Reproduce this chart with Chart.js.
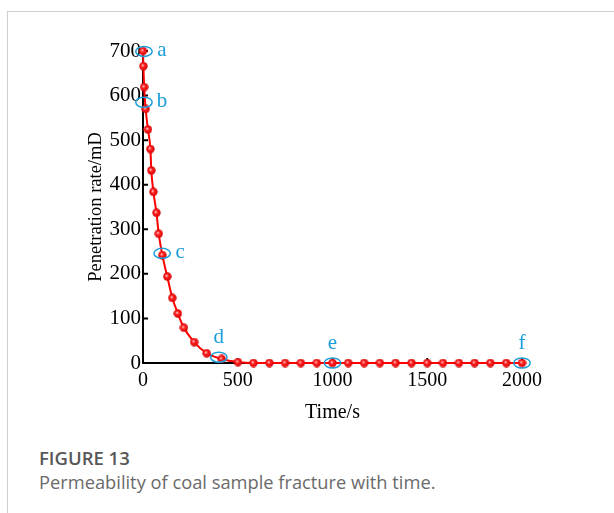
<!DOCTYPE html>
<html>
<head>
<meta charset="utf-8">
<script src="https://cdn.jsdelivr.net/npm/chart.js@4.4.1/dist/chart.umd.min.js"></script>
<style>
  html, body { margin: 0; padding: 0; background: #fff; }
  body { width: 614px; height: 513px; position: relative; overflow: hidden; }
  #frame { position: absolute; left: 7px; top: 11px; width: 620px; height: 520px;
           border-top: 1px solid #cfcfcf; border-left: 1px solid #cfcfcf; }
  #chart { position: absolute; left: 0; top: 0; }
  #figno { position: absolute; left: 39px; top: 445px; font-family: "Open Sans", sans-serif;
           font-size: 18.5px; font-weight: 600; color: #585858; }
  #cap { position: absolute; left: 39px; top: 469px; font-family: "Open Sans", sans-serif;
         font-size: 18.3px; color: #6a6a6a; }
</style>
</head>
<body>
<div id="frame"></div>
<canvas id="chart" width="614" height="440"></canvas>
<div id="figno">FIGURE 13</div>
<div id="cap">Permeability of coal sample fracture with time.</div>
<script>
// ---- data ----
const timeS = [0, 2, 6, 14, 26, 39, 44, 55, 71, 83, 102, 128, 155, 184, 216, 270, 336, 415, 501,
               583, 667, 750, 833, 917, 1000, 1083, 1167, 1250, 1333, 1417, 1500, 1583, 1667, 1750, 1833, 1917, 2000];
const rateMD = [700, 666, 619, 570, 524, 480, 432, 384, 337, 290, 242, 194, 146, 111, 79, 47, 22, 9, 2,
                0, 0, 0, 0, 0, 0, 0, 0, 0, 0, 0, 0, 0, 0, 0, 0, 0, 0];
const xTicks = [0, 500, 1000, 1500, 2000];
const yTicks = [0, 100, 200, 300, 400, 500, 600, 700];
const annLabels = ['a', 'b', 'c', 'd', 'e', 'f'];
const annTimes = [5, 5, 101, 400, 1000, 2000];
const annValues = [699, 585, 246, 13, 0, 0];

// ---- styles ----
const annSide = ['right', 'right', 'right', 'top', 'top', 'top'];
const BLUE = '#1b9ddb';
const SERIF = '"Liberation Serif", "Times New Roman", serif';

function makeBall() {
  const c = document.createElement('canvas');
  c.width = 9; c.height = 9;
  const g = c.getContext('2d');
  const grad = g.createRadialGradient(3.6, 3.6, 0.3, 4.5, 4.5, 4.5);
  grad.addColorStop(0, '#ffc8c8');
  grad.addColorStop(0.35, '#ff2020');
  grad.addColorStop(1, '#d00000');
  g.fillStyle = grad;
  g.beginPath(); g.arc(4.5, 4.5, 4.2, 0, Math.PI * 2); g.fill();
  return c;
}

const inwardTicks = {
  id: 'inwardTicks',
  beforeDatasetsDraw(chart) {
    const { ctx, chartArea: a, scales: { x, y } } = chart;
    ctx.save();
    ctx.strokeStyle = '#000';
    ctx.lineWidth = 2;
    ctx.beginPath();
    xTicks.forEach(v => { if (v === 0) return; const px = x.getPixelForValue(v); ctx.moveTo(px, a.bottom); ctx.lineTo(px, a.bottom - 5); });
    yTicks.forEach(v => { if (v === 0) return; const py = y.getPixelForValue(v); ctx.moveTo(a.left, py); ctx.lineTo(a.left + 5, py); });
    ctx.stroke();
    ctx.restore();
  }
};

const annotations = {
  id: 'annotations',
  afterDatasetsDraw(chart) {
    const { ctx, scales: { x, y } } = chart;
    ctx.save();
    ctx.strokeStyle = BLUE;
    ctx.fillStyle = BLUE;
    ctx.lineWidth = 1.5;
    ctx.font = '21px ' + SERIF;
    ctx.textAlign = 'center';
    ctx.textBaseline = 'middle';
    annLabels.forEach((lab, i) => {
      const px = x.getPixelForValue(annTimes[i]);
      const py = y.getPixelForValue(annValues[i]);
      ctx.beginPath();
      ctx.ellipse(px, py, 8.2, 5, 0, 0, Math.PI * 2);
      ctx.stroke();
      if (annSide[i] === 'right') ctx.fillText(lab, px + 18, py - 1);
      else ctx.fillText(lab, px, py - 20);
    });
    ctx.restore();
  }
};

new Chart(document.getElementById('chart'), {
  type: 'line',
  data: {
    datasets: [{
      data: timeS.map((t, i) => ({ x: t, y: rateMD[i] })),
      borderColor: '#ff0000',
      borderWidth: 2,
      cubicInterpolationMode: 'monotone',
      pointStyle: makeBall(),
      pointRadius: 4,
      clip: false
    }]
  },
  options: {
    responsive: false,
    animation: false,
    devicePixelRatio: 1,
    layout: { padding: { left: 0, right: 92, top: 51, bottom: 0 } },
    plugins: { legend: { display: false }, tooltip: { enabled: false } },
    scales: {
      x: {
        type: 'linear', min: 0, max: 2000,
        afterBuildTicks: s => { s.ticks = xTicks.map(v => ({ value: v })); },
        afterFit: s => { s.height = 77; },
        grid: { display: false, drawTicks: false },
        border: { display: true, color: '#000', width: 2 },
        ticks: { padding: 6, color: '#000', font: { family: SERIF, size: 20 }, maxRotation: 0, callback: v => String(v) },
        title: { display: true, text: 'Time/s', color: '#000', font: { family: SERIF, size: 20 }, padding: { top: 0, bottom: 15 } }
      },
      y: {
        type: 'linear', min: 0, max: 700,
        afterBuildTicks: s => { s.ticks = yTicks.map(v => ({ value: v })); },
        afterFit: s => { s.width = 143; },
        grid: { display: false, drawTicks: false },
        border: { display: true, color: '#000', width: 2 },
        ticks: { padding: 2, color: '#000', font: { family: SERIF, size: 21 }, callback: v => String(v) },
        title: { display: true, text: 'Penetration rate/mD', color: '#000', font: { family: SERIF, size: 18.5 }, padding: { top: 85, bottom: 0 } }
      }
    }
  },
  plugins: [inwardTicks, annotations]
});
</script>
</body>
</html>
